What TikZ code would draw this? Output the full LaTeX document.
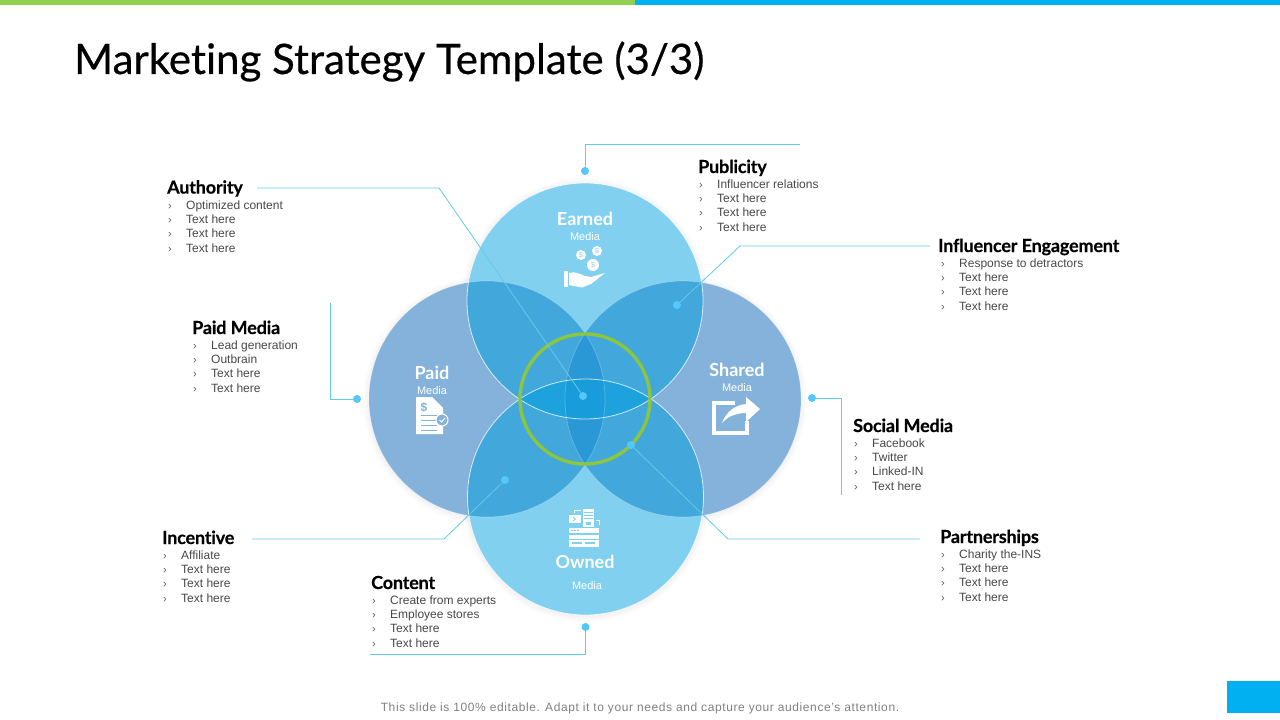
\documentclass[tikz,border=0pt]{standalone}
\usepackage{fontspec}
\setmainfont{Liberation Sans}
\newfontfamily\headfont[Ligatures=CommonOff]{Lato}
\definecolor{barGreen}{HTML}{92D050}
\definecolor{barBlue}{HTML}{00B0F0}
\definecolor{lightC}{HTML}{82D0F0}
\definecolor{paidC}{HTML}{84B2DA}
\definecolor{midC}{HTML}{42A8DC}
\definecolor{darkC}{HTML}{2A98D4}
\definecolor{lensC}{HTML}{1EA2DE}
\definecolor{coreC}{HTML}{189CDA}
\definecolor{ringC}{HTML}{8CC63F}
\definecolor{leadC}{HTML}{62CBE8}
\definecolor{dotC}{HTML}{55C8FA}
\tikzset{
	leader/.style={leadC,line width=.8pt},
	leaddot/.style={circle,fill=dotC,inner sep=0pt,minimum size=8pt},
	blockhead/.style={anchor=base west,inner sep=0pt,font=\headfont\addfontfeatures{LetterSpace=-1,FakeBold=.4}\bfseries\fontsize{18}{18}\selectfont},
	blockitem/.style={anchor=base west,inner sep=0pt,text=black!72,font=\fontsize{12}{12}\selectfont},
	blockmark/.style={anchor=base west,inner sep=0pt,text=black!65,font=\fontsize{11}{11}\selectfont},
	vennbig/.style={anchor=center,inner sep=0pt,text=white,font=\headfont\bfseries\fontsize{18}{18}\selectfont},
	vennsmall/.style={anchor=center,inner sep=0pt,text=white,font=\fontsize{11}{11}\selectfont},
	coin/.style={circle,fill=white,inner sep=0pt,text=lightC,font=\fontsize{7}{7}\selectfont},
	icon/.style={fill=white,draw=none},
}
% name, head x, list x, head y, title, first line, second line, [third line]
\newcommand{\infoblock}[8][Text here]{
	\node[blockhead] (#2head) at (#3,#5+6) {#6};
	\foreach \k/\dy/\txt in {1/18/{#7},2/32/{#8},3/46/{#1},4/61/{Text here}}{
		\node[blockmark] (#2mark\k) at (#4,#5+\dy+3.4) {›};
		\node[blockitem] (#2item\k) at (#4+18,#5+\dy+3.4) {\txt};}
}
\begin{document}
\begin{tikzpicture}[x=1pt,y=-1pt]
	\useasboundingbox (0,0) rectangle (1280,720);
	\fill[barGreen] (0,0) rectangle (635,5);
	\fill[barBlue] (635,0) rectangle (1280,5);
	\fill[barBlue] (1227,681) rectangle (1280,713);
	\node[anchor=west,inner sep=0pt,font=\headfont\addfontfeatures{FakeBold=.5}\fontsize{42}{42}\selectfont] (title) at (74,61.5) {Marketing Strategy Template (3/3)};

	\def\earned{(585,301) circle (118)}
	\def\paid{(487,399) circle (118)}
	\def\shared{(683,399) circle (118)}
	\def\owned{(585.5,497) circle (118)}

	% soft shadow
	\foreach \r in {1,...,6}{
		\fill[black,opacity=.009] (585,302) circle (118+\r);
		\fill[black,opacity=.009] (487,400) circle (118+\r);
		\fill[black,opacity=.009] (683,400) circle (118+\r);
		\fill[black,opacity=.009] (585.5,498) circle (118+\r);}

	\fill[paidC] \paid;
	\fill[paidC] \shared;
	\fill[lightC] \earned;
	\fill[lightC] \owned;
	% overlaps
	\foreach \a/\b in {\earned/\paid,\earned/\shared,\owned/\paid,\owned/\shared}{
		\begin{scope}
			\clip \a; \clip \b;
			\fill[midC] (300,100) rectangle (900,700);
		\end{scope}}
	\foreach \a in {\earned,\owned}{
		\begin{scope}
			\clip \a; \clip \paid; \clip \shared;
			\fill[darkC] (300,100) rectangle (900,700);
		\end{scope}}
	\begin{scope}
		\clip \earned; \clip \owned;
		\fill[lensC] (300,100) rectangle (900,700);
		\clip \paid; \clip \shared;
		\fill[coreC] (300,100) rectangle (900,700);
	\end{scope}
	\foreach \a in {\paid,\shared}{
		\draw[white,opacity=.25,line width=.7pt] \a;}
	\foreach \a in {\earned,\owned}{
		\draw[white,opacity=.75,line width=.8pt] \a;}
	\draw[ringC,line width=3.4pt] (585,399) circle (65);

	\node[vennbig] (earnedname) at (585,219) {Earned};
	\node[vennsmall] (earnedmedia) at (585,237) {Media};
	\node[vennbig] (paidname) at (432,373) {Paid};
	\node[vennsmall] (paidmedia) at (432,391) {Media};
	\node[vennbig] (sharedname) at (737,370) {Shared};
	\node[vennsmall] (sharedmedia) at (737,388) {Media};
	\node[vennbig] (ownedname) at (585,562) {Owned};
	\node[vennsmall] (ownedmedia) at (587,586) {Media};

	% hand and coins
	\node[coin,minimum size=10pt] (coina) at (581,255) {\$};
	\node[coin,minimum size=10pt] (coinb) at (597,251) {\$};
	\node[coin,minimum size=12pt] (coinc) at (593,265) {\$};
	\fill[icon] (564,271) rectangle (568,287);
	\fill[icon] (569,273) .. controls (575,271) and (580,274) .. (585,276) -- (591,277) -- (605,273) -- (591,284) -- (582,287.5) -- (569,285) -- cycle;

	% document
	\fill[icon] (416,397) -- (432,397) -- (443,408) -- (443,434) -- (416,434) -- cycle;
	\node[anchor=center,inner sep=0pt,text=paidC,font=\bfseries\fontsize{12}{12}\selectfont] (docsign) at (424,407) {\$};
	\foreach \k in {415,420,425,430}{
		\draw[paidC,line width=.9pt] (421,\k) -- (437,\k);}
	\draw[white,fill=paidC,line width=1pt] (442,420) circle (6);
	\draw[white,line width=.9pt] (439.5,420) -- (441.5,422) -- (445,418);

	% share arrow
	\draw[white,line width=4pt] (735,403) -- (714,403) -- (714,433) -- (747,433) -- (747,421);
	\fill[icon] (760,409) -- (746,397) -- (746,404) .. controls (735,405) and (726,412) .. (722,423) .. controls (728,416) and (737,413) .. (746,413) -- (746,422) -- cycle;

	% register
	\fill[icon] (569,515) rectangle (581,523);
	\draw[lightC,line width=.8pt] (573,517) -- (575.5,519) -- (573,521);
	\fill[icon] (583,509) rectangle (594,527);
	\foreach \k in {512,515,518}{
		\draw[lightC,line width=.7pt] (584,\k) -- (593,\k);}
	\fill[lightC] (586,522) rectangle (591,524.5);
	\draw[white,line width=.8pt] (574,513) -- (574,510.5) -- (581,510.5);
	\draw[white,line width=.8pt] (596,520) -- (599,520) -- (599,525);
	\fill[icon] (569,528) rectangle (599,533);
	\fill[icon] (569,534.5) rectangle (599,547);
	\foreach \k in {571,574,577}{
		\fill[lightC] (\k,530) rectangle (\k+1.5,531.2);}
	\draw[lightC,line width=.7pt] (569,539) -- (599,539);
	\fill[lightC] (572,541.5) rectangle (582,544);
	\fill[lightC] (585,541.5) rectangle (595,544);

	% text blocks
	\infoblock{auth}{167}{168}{187.6}{Authority}{Optimized content}{Text here}
	\infoblock{pub}{698}{699}{167}{Publicity}{Influencer relations}{Text here}
	\infoblock{infl}{938}{941}{246}{Influencer Engagement}{Response to detractors}{Text here}
	\infoblock{pmed}{192}{193}{328}{Paid Media}{Lead generation}{Outbrain}
	\infoblock[Linked-IN]{soc}{853}{854}{426}{Social Media}{Facebook}{Twitter}
	\infoblock{part}{940}{941}{537}{Partnerships}{Charity the-INS}{Text here}
	\infoblock{inc}{162}{163}{538}{Incentive}{Affiliate}{Text here}
	\infoblock{cont}{371}{372}{583}{Content}{Create from experts}{Employee stores}

	% leaders
	\node[leaddot] (pubdot) at (585,171) {};
	\node[leaddot] (authdot) at (583,396) {};
	\node[leaddot] (infldot) at (677,305) {};
	\node[leaddot] (pmeddot) at (357,399) {};
	\node[leaddot] (socdot) at (812,398) {};
	\node[leaddot] (partdot) at (631,445) {};
	\node[leaddot] (incdot) at (505,480) {};
	\node[leaddot] (contdot) at (585.5,627) {};
	\coordinate (pubend) at (800,144);
	\coordinate (authend) at (257,188);
	\coordinate (inflend) at (930,246);
	\coordinate (pmedend) at (330,303);
	\coordinate (socend) at (841,495);
	\coordinate (partend) at (920,539);
	\coordinate (incend) at (252,539);
	\coordinate (contend) at (370,654);
	\draw[leader] (pubdot) -- (585,144) -- (pubend);
	\draw[leader] (authend) -- (439,188) -- (authdot);
	\draw[leader] (inflend) -- (740,246) -- (infldot);
	\draw[leader] (pmedend) -- (330,399) -- (pmeddot);
	\draw[leader] (socdot) -- (841,398) -- (socend);
	\draw[leader] (partend) -- (728,539) -- (partdot);
	\draw[leader] (incend) -- (444,539) -- (incdot);
	\draw[leader] (contdot) -- (585.5,654) -- (contend);

	\node[anchor=center,inner sep=0pt,text=black!50,font=\addfontfeatures{LetterSpace=5}\fontsize{12}{12}\selectfont] (footer) at (640,708.5) {This slide is 100\% editable. Adapt it to your needs and capture your audience's attention.};
\end{tikzpicture}
\end{document}
